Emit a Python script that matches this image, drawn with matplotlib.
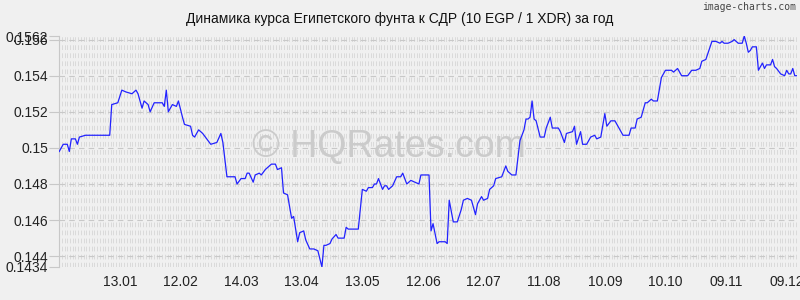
import numpy as np
import matplotlib
matplotlib.use("Agg")
import matplotlib.pyplot as plt

# Курс 10 EGP / 1 XDR, день от начала периода -> значение
days = [0, 2, 4, 5, 6, 8, 9, 10, 13, 25, 26, 29, 31, 33, 36, 38, 39, 41, 42, 44,
        45, 47, 51, 52, 53, 54, 56, 58, 59, 61, 62, 65, 66, 67, 69, 71, 73, 75, 78, 80,
        81, 83, 87, 88, 90, 92, 93, 94, 96, 97, 99, 100, 102, 105, 107, 108, 110, 111, 113, 115,
        116, 118, 119, 121, 122, 124, 126, 128, 130, 131, 132, 134, 135, 137, 138, 141, 142, 143, 148, 150,
        152, 153, 155, 156, 157, 158, 160, 161, 162, 163, 165, 167, 169, 170, 172, 174, 176, 178, 179, 181,
        183, 184, 185, 187, 188, 191, 192, 193, 194, 195, 197, 199, 200, 202, 204, 206, 207, 209, 210, 212,
        213, 215, 216, 219, 221, 222, 224, 226, 228, 230, 231, 232, 233, 234, 235, 236, 238, 240, 241, 243,
        244, 247, 248, 250, 251, 254, 255, 256, 258, 259, 261, 263, 265, 266, 268, 270, 271, 273, 275, 276,
        279, 280, 282, 283, 285, 286, 288, 290, 291, 293, 294, 296, 298, 300, 303, 304, 306, 308, 311, 313,
        315, 317, 318, 320, 323, 325, 327, 328, 329, 331, 333, 334, 336, 338, 339, 340, 341, 342, 343, 345,
        346, 348, 349, 350, 352, 353, 354, 355, 357, 359, 360, 361, 362, 363, 364, 365]
rates = [0.1498, 0.1502, 0.1502, 0.1498, 0.1505, 0.1505, 0.1502, 0.1506, 0.1507, 0.1507,
         0.1524, 0.1525, 0.1532, 0.1531, 0.1530, 0.1532, 0.1530, 0.1522, 0.1526, 0.1524,
         0.1520, 0.1525, 0.1525, 0.1523, 0.1532, 0.1520, 0.1524, 0.1523, 0.1526, 0.1517,
         0.1513, 0.1512, 0.1507, 0.1506, 0.1510, 0.1508, 0.1505, 0.1502, 0.1503, 0.1508,
         0.1503, 0.1484, 0.1484, 0.1480, 0.1483, 0.1483, 0.1486, 0.1486, 0.1481, 0.1485,
         0.1486, 0.1485, 0.1488, 0.1491, 0.1491, 0.1488, 0.1489, 0.1475, 0.1474, 0.1461,
         0.1462, 0.1448, 0.1453, 0.1454, 0.1449, 0.1444, 0.1444, 0.1443, 0.1434, 0.1446,
         0.1446, 0.1447, 0.14495, 0.1452, 0.1450, 0.1450, 0.1456, 0.1455, 0.1455, 0.1477,
         0.1476, 0.1478, 0.1478, 0.1480, 0.1480, 0.1483, 0.1477, 0.1479, 0.1479, 0.1477,
         0.1479, 0.1484, 0.1484, 0.1486, 0.1480, 0.1482, 0.1481, 0.1480, 0.1485, 0.1485,
         0.1485, 0.1454, 0.1458, 0.1447, 0.1448, 0.1448, 0.1447, 0.1471, 0.1465, 0.1459,
         0.1459, 0.1466, 0.1471, 0.1472, 0.1471, 0.1463, 0.1469, 0.1473, 0.1471, 0.1472,
         0.1477, 0.1479, 0.1483, 0.1484, 0.1490, 0.1487, 0.1485, 0.1485, 0.1504, 0.1510,
         0.1516, 0.1516, 0.1517, 0.1526, 0.1516, 0.1515, 0.1506, 0.1506, 0.1511, 0.1517,
         0.1511, 0.1511, 0.1509, 0.1503, 0.1508, 0.1509, 0.1512, 0.1502, 0.1509, 0.1502,
         0.1502, 0.1506, 0.1507, 0.1505, 0.1506, 0.1519, 0.1512, 0.1515, 0.1515, 0.1513,
         0.1507, 0.1507, 0.1507, 0.1511, 0.1511, 0.1516, 0.1517, 0.1525, 0.1525, 0.1527,
         0.1526, 0.1526, 0.1539, 0.1543, 0.1543, 0.1542, 0.1544, 0.1540, 0.1540, 0.1543,
         0.1543, 0.1544, 0.1548, 0.1549, 0.1559, 0.1559, 0.1558, 0.1559, 0.1558, 0.1558,
         0.1559, 0.1560, 0.1558, 0.1558, 0.1562, 0.1558, 0.1553, 0.1554, 0.1556, 0.1556,
         0.1543, 0.1547, 0.1544, 0.1546, 0.1546, 0.1549, 0.1545, 0.1544, 0.1541, 0.1540,
         0.1543, 0.1541, 0.1541, 0.1544, 0.1540, 0.1540]

x_tick_days = [30, 60, 90, 120, 150, 180, 210, 240, 270, 300, 330, 360]
x_tick_labels = ["13.01", "12.02", "14.03", "13.04", "13.05", "12.06",
                 "12.07", "11.08", "10.09", "10.10", "09.11", "09.12"]
y_ticks = [0.1434, 0.144, 0.146, 0.148, 0.15, 0.152, 0.154, 0.156, 0.1562]
y_tick_labels = ["0.1434", "0.144", "0.146", "0.148", "0.15", "0.152", "0.154", "0.156", "0.1562"]

title = "Динамика курса Египетского фунта к СДР (10 EGP / 1 XDR) за год"

plt.rcParams['font.family'] = ['Liberation Sans', 'DejaVu Sans']
plt.rcParams['lines.scale_dashes'] = False

bg = '#f0f0f0'
fig = plt.figure(figsize=(8, 3), dpi=100, facecolor=bg)
ax = fig.add_axes([0.074, 0.11, 0.922, 0.77], facecolor=bg)

y_min, y_max = min(rates), max(rates)
x_max = 365
ax.set_xlim(0, x_max)
ax.set_ylim(y_min, y_max)

# dense dotted background pattern (short vertical dashes)
grid_x = np.arange(0, x_max + 1, 1.34)
ax.vlines(grid_x, y_min, y_max, colors='#dadada', linewidth=0.7,
          linestyles=[(0, (3.4, 2.4))], zorder=0)

# dashed lines at labelled levels
for yv in y_ticks[1:-1]:
    ax.axhline(yv, color='#c8c8c8', linewidth=0.8, linestyle=(0, (4, 3)), zorder=1)

# watermark
ax.text(0.447, 0.52, "© HQRates.com", transform=ax.transAxes, fontsize=27,
        color='#cbcbcb', ha='center', va='center', zorder=1)

ax.plot(days, rates, color='#2222ff', linewidth=0.9, zorder=3)

ax.set_yticks(y_ticks)
ax.set_yticklabels(y_tick_labels)
ax.set_xticks(x_tick_days)
ax.set_xticklabels(x_tick_labels)
ax.tick_params(axis='y', length=7, color='#c8c8c8', pad=1, labelsize=10, labelcolor='#222222')
ax.tick_params(axis='x', length=0, pad=6, labelsize=10, labelcolor='#222222')

for side in ['top', 'right', 'bottom']:
    ax.spines[side].set_visible(False)
ax.spines['left'].set_color('#c8c8c8')
ax.spines['left'].set_linewidth(0.8)

fig.text(0.499, 0.935, title, ha='center', va='center', fontsize=10, color='#111111')
fig.text(0.995, 0.975, "image-charts.com", ha='right', va='center', fontsize=7,
         color='#444444', family='DejaVu Sans Mono')

fig.savefig('out.png', dpi=100, facecolor=bg)
